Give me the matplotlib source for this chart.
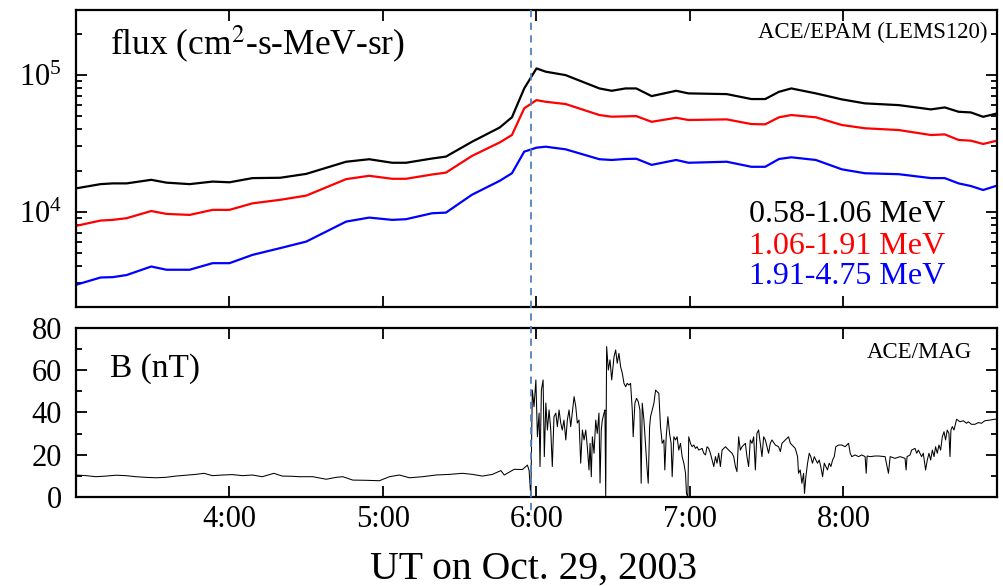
import matplotlib
matplotlib.use('Agg')
import matplotlib.pyplot as plt
from matplotlib.ticker import LogLocator, FixedLocator, FuncFormatter, MultipleLocator, NullFormatter, NullLocator
from matplotlib.lines import Line2D
import matplotlib.transforms as mtransforms

# ---------------- data ----------------
# EPAM LEMS120 electron flux, time in decimal hours UT (Oct 29, 2003)
flux_time_h = [3.00, 3.16, 3.24, 3.33, 3.49, 3.59, 3.74, 3.89, 4.00, 4.15,
               4.33, 4.50, 4.76, 4.91, 5.06, 5.15, 5.32, 5.41, 5.58, 5.76,
               5.84, 5.92, 6.00, 6.06, 6.19, 6.41, 6.49, 6.58, 6.65, 6.75,
               6.91, 6.99, 7.24, 7.40, 7.49, 7.58, 7.66, 7.82, 7.99, 8.14,
               8.36, 8.57, 8.66, 8.75, 8.83, 8.91, 9.00]
flux_058_106 = [14800, 15900, 16100, 16100, 17100, 16300, 15900, 16600, 16400, 17600,
                17700, 18900, 23200, 24200, 22800, 22800, 24500, 25300, 32500, 41300,
                49100, 79900, 112000, 106000, 100000, 79900, 76800, 79900, 79900, 70200,
                76800, 73500, 72600, 66800, 66800, 75500, 79900, 73500, 66400, 62100,
                60300, 56100, 58000, 53900, 53300, 49500, 52400]
flux_106_191 = [7860, 8600, 8700, 8950, 10100, 9620, 9460, 10300, 10300, 11500,
                12200, 13100, 17300, 18300, 17400, 17400, 18700, 19300, 25600, 32100,
                36400, 57100, 65600, 63800, 61400, 51000, 49600, 49900, 50100, 45500,
                48700, 46900, 47400, 43800, 43600, 49100, 51000, 49100, 43100, 40800,
                39600, 36400, 36800, 33500, 33100, 31300, 33100]
flux_191_475 = [2910, 3290, 3310, 3430, 3960, 3750, 3750, 4190, 4190, 4820,
                5400, 6030, 8450, 9040, 8700, 8800, 9730, 9830, 13300, 16800,
                19100, 27500, 29400, 29900, 28600, 24200, 23900, 24300, 24400, 22000,
                23900, 22800, 23200, 21300, 21300, 24300, 25000, 23900, 20400, 19100,
                18800, 17600, 17600, 16100, 15400, 14400, 15500]
series_labels = ["0.58-1.06 MeV", "1.06-1.91 MeV", "1.91-4.75 MeV"]
series_colors = ["black", "#ff0000", "#0000ff"]

# ACE/MAG field magnitude (nT)
b_time_h = [3.000, 3.065, 3.130, 3.195, 3.260, 3.325, 3.390, 3.455, 3.520, 3.585,
            3.650, 3.715, 3.780, 3.834, 3.889, 3.954, 4.019, 4.084, 4.149, 4.214,
            4.289, 4.344, 4.409, 4.456, 4.543, 4.630, 4.695, 4.738, 4.803, 4.890,
            4.977, 5.042, 5.107, 5.172, 5.258, 5.345, 5.432, 5.518, 5.583, 5.648,
            5.713, 5.768, 5.790, 5.855, 5.908, 5.941, 5.952, 5.963,
            5.973, 5.984, 5.996, 6.006, 6.017, 6.023, 6.032, 6.043, 6.051, 6.061,
            6.071, 6.082, 6.093, 6.103, 6.114, 6.126, 6.136, 6.147, 6.158, 6.168,
            6.179, 6.191, 6.201, 6.212, 6.223, 6.233, 6.245, 6.256, 6.266, 6.277,
            6.288, 6.299, 6.310, 6.321, 6.331, 6.342, 6.349, 6.357, 6.364, 6.375,
            6.386, 6.396, 6.407, 6.414, 6.422, 6.429, 6.440, 6.446, 6.451, 6.457,
            6.468, 6.479, 6.490, 6.505, 6.516, 6.526, 6.537, 6.548, 6.559, 6.570,
            6.581, 6.591, 6.602, 6.613, 6.624, 6.630, 6.641, 6.652, 6.663, 6.674,
            6.682, 6.689, 6.700, 6.711, 6.721, 6.728, 6.737, 6.743, 6.754, 6.765,
            6.776, 6.786, 6.797, 6.808, 6.819, 6.830, 6.836, 6.845, 6.856, 6.867,
            6.877, 6.884, 6.895, 6.906, 6.916, 6.927, 6.938, 6.949, 6.960, 6.971,
            6.977, 6.986, 6.992, 7.003, 7.014, 7.025, 7.036, 7.046, 7.057, 7.079,
            7.090, 7.101, 7.111, 7.122, 7.133, 7.155, 7.166, 7.176, 7.187, 7.198,
            7.209, 7.231, 7.252, 7.274, 7.285, 7.296, 7.306, 7.317, 7.328, 7.339,
            7.361, 7.371, 7.382, 7.393, 7.404, 7.415, 7.426, 7.436, 7.447, 7.458,
            7.469, 7.480, 7.491, 7.512, 7.523, 7.534, 7.556, 7.577, 7.589, 7.599,
            7.621, 7.642, 7.654, 7.675, 7.686, 7.701, 7.707, 7.718, 7.729, 7.740,
            7.746, 7.755, 7.766, 7.777, 7.787, 7.798, 7.810, 7.820, 7.831, 7.842,
            7.852, 7.864, 7.875, 7.885, 7.896, 7.907, 7.918, 7.929, 7.940, 7.950,
            7.968, 7.989, 8.011, 8.033, 8.044, 8.054, 8.076, 8.098, 8.119, 8.141,
            8.148, 8.154, 8.174, 8.206, 8.228, 8.271, 8.293, 8.304, 8.336, 8.369,
            8.401, 8.408, 8.414, 8.434, 8.444, 8.466, 8.477, 8.488, 8.509, 8.520,
            8.535, 8.546, 8.557, 8.568, 8.579, 8.590, 8.600, 8.611, 8.622, 8.633,
            8.644, 8.655, 8.665, 8.676, 8.687, 8.694, 8.700, 8.709, 8.720, 8.737,
            8.759, 8.780, 8.802, 8.813, 8.834, 8.856, 8.878, 8.899, 8.921, 8.954,
            8.982, 9.000]
b_nT = [10.4, 10.1, 9.6, 9.9, 10.3, 10.1, 9.6, 9.3, 9.1, 9.3,
        9.9, 10.3, 10.7, 11.2, 10.1, 10.4, 10.6, 10.1, 10.4, 9.6,
        11.2, 9.9, 9.8, 9.6, 9.6, 8.4, 9.3, 9.6, 8.0, 7.9,
        7.7, 9.6, 10.4, 9.1, 9.6, 10.4, 10.7, 11.2, 10.7, 9.9,
        10.7, 12.5, 10.4, 13.1, 13.0, 15.1, 12.5, 0.0,
        50.6, 42.7, 55.4, 28.5, 39.7, 14.4, 50.6, 55.4, 19.1, 44.5,
        31.7, 41.2, 31.7, 14.4, 38.0, 39.7, 33.3, 41.2, 35.0, 31.7,
        36.4, 27.0, 36.4, 41.2, 33.3, 39.7, 47.5, 42.7, 35.0, 36.4,
        16.0, 31.7, 27.0, 31.7, 23.8, 12.8, 25.4, 9.6, 28.5, 20.7,
        36.4, 30.1, 39.7, 6.6, 31.7, 36.4, 39.7, 41.2, 0.0, 71.2,
        60.1, 64.9, 55.4, 66.4, 69.6, 63.3, 68.0, 61.7, 58.6, 53.8,
        52.2, 53.8, 53.0, 53.8, 41.2, 28.5, 44.4, 46.7, 45.1, 41.2,
        6.5, 44.4, 36.4, 23.8, 12.8, 6.5, 33.3, 38.0, 41.2, 44.4,
        50.6, 49.8, 49.1, 33.3, 25.4, 27.0, 12.8, 28.5, 38.0, 30.1,
        25.4, 9.6, 28.5, 27.0, 28.5, 22.2, 25.4, 19.1, 16.0, 11.2,
        1.7, 0.0, 28.5, 25.4, 23.8, 24.6, 23.0, 23.8, 22.2, 23.0,
        20.7, 19.9, 23.8, 23.0, 20.7, 14.4, 19.1, 16.0, 20.7, 14.4,
        22.2, 23.8, 22.2, 20.7, 19.1, 14.4, 12.0, 28.5, 22.2, 23.8,
        25.4, 19.1, 14.4, 27.0, 25.4, 28.5, 12.8, 30.1, 31.7, 25.4,
        19.1, 28.5, 27.0, 20.7, 25.4, 27.0, 24.6, 23.8, 21.5, 25.4,
        27.0, 28.5, 25.4, 23.8, 23.0, 19.1, 11.2, 12.8, 6.5, 11.2,
        1.7, 9.6, 16.0, 20.7, 19.1, 16.0, 19.1, 17.5, 16.0, 17.5,
        14.4, 9.6, 16.0, 14.4, 12.8, 16.0, 14.4, 17.5, 19.1, 23.8,
        24.6, 24.6, 23.8, 25.4, 20.7, 19.1, 19.9, 19.1, 19.9, 19.1,
        11.2, 19.4, 19.1, 19.4, 19.4, 19.1, 11.2, 19.1, 18.3, 19.1,
        18.3, 12.8, 19.1, 19.9, 22.2, 23.0, 20.7, 22.2, 19.1, 20.7,
        12.8, 17.5, 20.7, 17.5, 22.2, 19.1, 23.8, 20.7, 24.6, 22.2,
        28.5, 30.9, 27.0, 31.7, 30.1, 19.1, 31.7, 33.3, 31.7, 36.8,
        35.6, 36.1, 34.9, 35.6, 34.4, 34.4, 35.2, 34.9, 36.1, 36.4,
        36.8, 36.8]

SHOCK_TIME_H = 5.965
hour_ticks = [4, 5, 6, 7, 8]

# ---------------- style ----------------
plt.rcParams['font.family'] = ['Liberation Serif', 'DejaVu Serif']
plt.rcParams['mathtext.fontset'] = 'stix'

fig = plt.figure(figsize=(10.04, 5.86), dpi=100)
ax1 = fig.add_axes([0.0757, 0.4761, 0.9173, 0.5068])
ax2 = fig.add_axes([0.0757, 0.1519, 0.9173, 0.2884])

for vals, col in zip([flux_058_106, flux_106_191, flux_191_475], series_colors):
    ax1.plot(flux_time_h, vals, color=col, lw=1.6)
ax1.set_yscale('log')
ax1.set_ylim(2e3, 3e5)
ax1.set_xlim(3, 9)

ax2.plot(b_time_h, b_nT, color='black', lw=0.75)
ax2.set_ylim(0, 80)
ax2.set_xlim(3, 9)

for ax in (ax1, ax2):
    for sp in ax.spines.values():
        sp.set_linewidth(1.6)
    ax.xaxis.set_major_locator(FixedLocator(hour_ticks))
    ax.xaxis.set_minor_locator(NullLocator())
    ax.tick_params(which='both', direction='in', top=True, right=True, width=1.3)
    ax.tick_params(which='major', length=8)
    ax.tick_params(which='minor', length=4.5)

ax1.yaxis.set_major_locator(LogLocator(base=10, numticks=10))
ax1.yaxis.set_minor_locator(LogLocator(base=10, subs=range(2, 10), numticks=20))
ax1.yaxis.set_minor_formatter(NullFormatter())
ax1.tick_params(axis='y', labelsize=22, pad=10)
ax1.tick_params(axis='x', labelbottom=False)

ax2.yaxis.set_major_locator(MultipleLocator(20))
ax2.yaxis.set_minor_locator(MultipleLocator(10))
ax2.tick_params(axis='y', labelsize=22, pad=10)
ax2.tick_params(axis='x', labelsize=22, pad=6)
ax2.xaxis.set_major_formatter(FuncFormatter(lambda v, p: f"{int(round(v))}:00"))

# texts
ax1.text(0.037, 0.882, r"flux (cm$^{2}$-s-MeV-sr)", transform=ax1.transAxes,
         fontsize=25.5, ha='left', va='center')
ax1.text(0.990, 0.926, "ACE/EPAM (LEMS120)", transform=ax1.transAxes,
         fontsize=16.5, ha='right', va='center')
for lab, col, yy in zip(series_labels, series_colors, [0.310, 0.205, 0.104]):
    ax1.text(0.9435, yy, lab, color=col, transform=ax1.transAxes,
             fontsize=23, ha='right', va='center')
ax2.text(0.037, 0.757, "B (nT)", transform=ax2.transAxes,
         fontsize=24, ha='left', va='center')
ax2.text(0.973, 0.855, "ACE/MAG", transform=ax2.transAxes,
         fontsize=16.5, ha='right', va='center')
fig.text(534 / 1004, 1 - 569 / 586, "UT on Oct. 29, 2003", fontsize=28.5,
         ha='center', va='center')

# shock marker spanning both panels
trans = mtransforms.blended_transform_factory(ax2.transData, fig.transFigure)
fig.add_artist(Line2D([SHOCK_TIME_H, SHOCK_TIME_H], [1 - 10 / 586, 1 - 516 / 586],
                      transform=trans, color='#4f81bd', lw=1.3, dashes=[4, 3]))

fig.savefig('out.png', dpi=100)
